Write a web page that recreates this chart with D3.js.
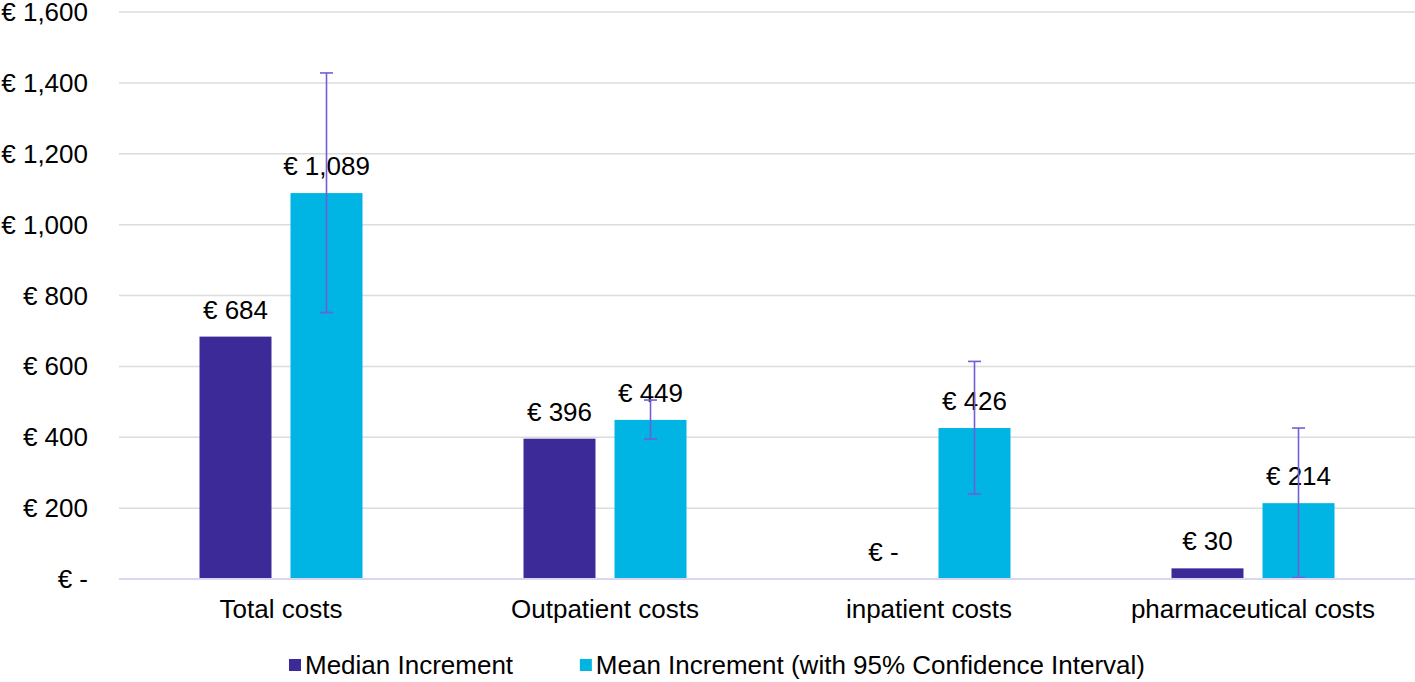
<!DOCTYPE html>
<html>
<head>
<meta charset="utf-8">
<script src="https://cdn.jsdelivr.net/npm/d3@7"></script>
<style>
  html, body { margin: 0; padding: 0; background: #fff; }
  svg { display: block; font-family: "Liberation Sans", Arial, sans-serif; }
</style>
</head>
<body>
<div id="chart"></div>
<script>
const categories = ['Total costs', 'Outpatient costs', 'inpatient costs', 'pharmaceutical costs'];
const seriesNames = ['Median Increment', 'Mean Increment (with 95% Confidence Interval)'];
const medianValues = [684, 396, 0, 30];
const meanValues = [1089, 449, 426, 214];
const ciLow = [752, 395, 240, 4];
const ciHigh = [1428, 505, 614, 426];
const yTicks = [0, 200, 400, 600, 800, 1000, 1200, 1400, 1600];
const colors = ['#3c2a99', '#00b4e3'];

const width = 1415;
const height = 682;
const margin = {top: 12, right: 0, bottom: 103, left: 119};
const fontSize = 26;

const svg = d3.select('#chart').append('svg')
  .attr('width', width)
  .attr('height', height);

const x0 = d3.scaleBand()
  .domain(categories)
  .range([margin.left, width - margin.right]);

const groupW = 163;
const x1 = d3.scaleBand()
  .domain(seriesNames)
  .range([x0.bandwidth() / 2 - groupW / 2, x0.bandwidth() / 2 + groupW / 2])
  .paddingInner(0.209);

const y = d3.scaleLinear()
  .domain([0, 1600])
  .range([height - margin.bottom, margin.top]);

const euro = v => v === 0 ? '€ -' : '€ ' + d3.format(',')(v);

// gridlines
svg.append('g')
  .selectAll('line')
  .data(yTicks.filter(d => d > 0))
  .join('line')
  .attr('x1', margin.left)
  .attr('x2', width - margin.right)
  .attr('y1', d => y(d))
  .attr('y2', d => y(d))
  .attr('stroke', '#dcdcdc')
  .attr('stroke-width', 1.5);

// y tick labels
svg.append('g')
  .selectAll('text')
  .data(yTicks)
  .join('text')
  .attr('x', 88)
  .attr('y', d => y(d))
  .attr('dy', '0.35em')
  .attr('text-anchor', 'end')
  .attr('font-size', fontSize)
  .attr('fill', '#000')
  .text(euro);

const rows = categories.map((c, i) => ({
  cat: c,
  vals: [
    {s: seriesNames[0], v: medianValues[i], k: 0},
    {s: seriesNames[1], v: meanValues[i], k: 1, lo: ciLow[i], hi: ciHigh[i]}
  ]
}));

const group = svg.append('g')
  .selectAll('g')
  .data(rows)
  .join('g')
  .attr('transform', d => `translate(${x0(d.cat)},0)`);

group.selectAll('rect')
  .data(d => d.vals)
  .join('rect')
  .attr('x', d => x1(d.s))
  .attr('width', x1.bandwidth())
  .attr('y', d => y(d.v))
  .attr('height', d => y(0) - y(d.v))
  .attr('fill', d => colors[d.k]);

// baseline
svg.append('line')
  .attr('x1', margin.left)
  .attr('x2', width - margin.right)
  .attr('y1', y(0))
  .attr('y2', y(0))
  .attr('stroke', '#dad5f0')
  .attr('stroke-width', 2);

// value labels
group.selectAll('text.val')
  .data(d => d.vals)
  .join('text')
  .attr('class', 'val')
  .attr('x', d => x1(d.s) + x1.bandwidth() / 2)
  .attr('y', d => y(d.v) - 18)
  .attr('text-anchor', 'middle')
  .attr('font-size', fontSize)
  .attr('fill', '#000')
  .text(d => euro(d.v));

// error bars
const err = group.selectAll('g.err')
  .data(d => d.vals.filter(v => v.hi !== undefined))
  .join('g')
  .attr('class', 'err')
  .attr('stroke', '#6f5fd9')
  .attr('stroke-width', 1.6);
const cx = d => x1(d.s) + x1.bandwidth() / 2;
err.append('line')
  .attr('x1', cx).attr('x2', cx)
  .attr('y1', d => y(d.lo)).attr('y2', d => y(d.hi));
err.append('line')
  .attr('x1', d => cx(d) - 6.5).attr('x2', d => cx(d) + 6.5)
  .attr('y1', d => y(d.hi)).attr('y2', d => y(d.hi));
err.append('line')
  .attr('x1', d => cx(d) - 6.5).attr('x2', d => cx(d) + 6.5)
  .attr('y1', d => y(d.lo)).attr('y2', d => y(d.lo));

// category labels
svg.append('g')
  .selectAll('text')
  .data(categories)
  .join('text')
  .attr('x', d => x0(d) + x0.bandwidth() / 2)
  .attr('y', y(0) + 39)
  .attr('text-anchor', 'middle')
  .attr('font-size', fontSize)
  .attr('fill', '#000')
  .text(d => d);

// legend
const legend = svg.append('g');
const items = legend.selectAll('g')
  .data(seriesNames)
  .join('g');
items.append('rect')
  .attr('width', 12)
  .attr('height', 12)
  .attr('y', -6)
  .attr('fill', (d, i) => colors[i]);
items.append('text')
  .attr('x', 16)
  .attr('dy', '0.35em')
  .attr('font-size', fontSize)
  .attr('fill', '#000')
  .text(d => d);
let lx = 0;
items.each(function () {
  const w = this.getBBox().width;
  d3.select(this).attr('transform', `translate(${lx},0)`);
  lx += w + 66;
});
lx -= 66;
legend.attr('transform', `translate(${717 - lx / 2},${665})`);
</script>
</body>
</html>
